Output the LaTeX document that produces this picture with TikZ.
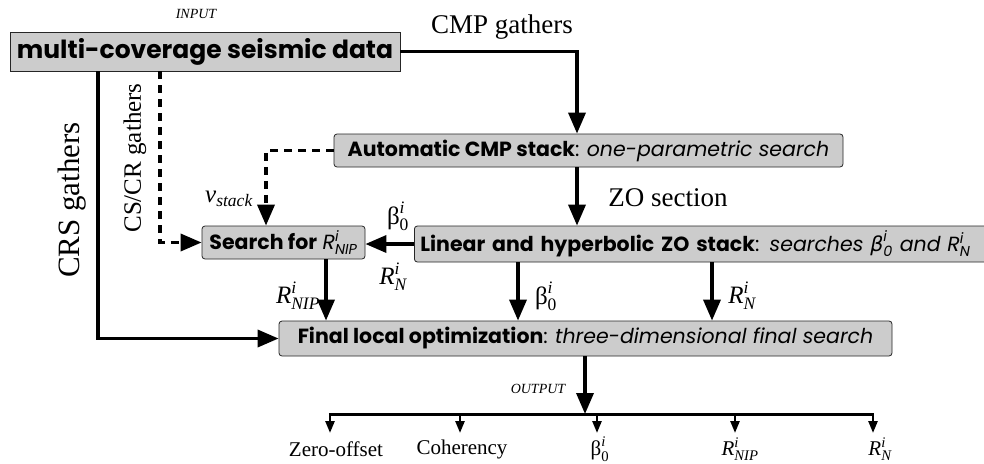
\documentclass[tikz,border=0pt]{standalone}
\usepackage{fontspec}
\usepackage{amsmath}
\setmainfont{Liberation Serif}
\newfontfamily\pop{Poppins}
\newfontfamily\gk{DejaVu Sans}
\usetikzlibrary{arrows.meta}
\newcommand\BZ{$\text{β}^{\text{\itshape i}}_{\text{0}}$}
\newcommand\BZbox{$\text{\gk β}^{\text{\itshape i}}_{\text{0}}$}
\newcommand\RN{$\text{\itshape R}^{\text{\itshape i}}_{\text{\itshape N}}$}
\newcommand\RNIP{$\text{\itshape R}^{\text{\itshape i}}_{\text{\itshape NIP}}$}
\tikzset{
  boxA/.style={draw=black!85, line width=0.8pt, fill=black!20, inner sep=0pt,
    font=\pop\bfseries\fontsize{25}{29}\selectfont},
  rbox/.style={draw=black!85, line width=0.8pt, fill=black!20, rounded corners=3pt,
    inner xsep=6pt, inner ysep=0pt, font=\pop\fontsize{20.5}{24}\selectfont},
  flow/.style={line width=3.5pt, -{Triangle[length=21pt,width=17pt]}},
  dflow/.style={flow, dash pattern=on 8pt off 6pt},
  smallarrow/.style={line width=2.5pt, -{Triangle[length=12pt,width=9pt]}},
  lbl/.style={inner sep=0pt, font=\fontsize{27}{31}\selectfont},
  slbl/.style={inner sep=0pt, font=\fontsize{25}{29}\selectfont},
  tinylbl/.style={inner sep=0pt, font=\itshape\fontsize{14}{16}\selectfont},
  outlbl/.style={inner sep=0pt, font=\fontsize{21}{25}\selectfont},
}
\begin{document}
\begin{tikzpicture}[x=1pt,y=-1pt]
\useasboundingbox (0,0) rectangle (984,463);
\fill[white] (0,0) rectangle (984,463);

% boxes
\node[boxA, minimum width=390pt, minimum height=39pt] (b1) at (205,51.5) {multi-coverage seismic data};
\node[rbox, minimum width=509pt, minimum height=33pt] (b2) at (588.5,150.5)
  {\textbf{Automatic CMP stack}: \textit{one-parametric search}};
\node[rbox, minimum height=36pt, text width=570pt, align=left, anchor=west] (b3) at (414,244)
  {\textbf{Linear and hyperbolic ZO stack}: \textit{searches \BZbox\ and \RN}};
\node[rbox, minimum width=163pt, minimum height=33pt] (s) at (283.5,242.5)
  {\textbf{Search for} \RNIP};
\node[rbox, minimum width=613pt, minimum height=35pt] (f) at (585.5,338.5)
  {\textbf{Final local optimization}: \textit{three-dimensional final search}};

% x positions
\coordinate (xA) at (577,0);
\coordinate (xV) at (266,0);
\coordinate (xD) at (160,0);
\coordinate (xS) at (98,0);
\coordinate (x1) at (326,0);
\coordinate (x2) at (518,0);
\coordinate (x3) at (712,0);
\coordinate (xo) at (585,0);

% connectors
\draw[flow] (b1.east) -| (b2.north -| xA);
\draw[flow] (b2.south -| xA) -- (b3.north -| xA);
\draw[dflow] (b2.west) -| (s.north -| xV);
\draw[flow] (b3.west) -- (b3.west -| s.east);
\draw[dflow] (b1.south -| xD) |- (s.west);
\draw[flow] (b1.south -| xS) |- (f.west);
\draw[flow] (s.south -| x1) -- (f.north -| x1);
\draw[flow] (b3.south -| x2) -- (f.north -| x2);
\draw[flow] (b3.south -| x3) -- (f.north -| x3);

% output tree
\coordinate (bar) at (585,414);
\coordinate (t1) at (330,414);
\coordinate (t2) at (460,414);
\coordinate (t3) at (597,414);
\coordinate (t4) at (735,414);
\coordinate (t5) at (873,414);
\draw[flow] (f.south -| xo) -- (bar);
\draw[line width=3pt] ([xshift=-1.2pt]t1) -- ([xshift=1.2pt]t5);
\foreach \t in {t1,t2,t3,t4,t5} \draw[smallarrow] (\t) -- ++(0,19);

% labels
\node[tinylbl] (inl) at (196,14) {INPUT};
\node[tinylbl] (outl) at (538,389) {OUTPUT};
\node[lbl] (cmpg) at (502,27) {CMP gathers};
\node[lbl] (zos) at (668,198) {ZO section};
\node[lbl, rotate=90, font=\fontsize{31}{35}\selectfont] (crs) at (72,200) {CRS gathers};
\node[lbl, rotate=90, font=\fontsize{25}{29}\selectfont] (cscr) at (135,158) {CS/CR gathers};
\node[slbl] (vs) at (229,199) {$\text{\itshape v}_{\text{\itshape stack}}$};
\node[slbl] (lb1) at (398,216) {\BZ};
\node[slbl] (lr1) at (393,277) {\RN};
\node[slbl] (lr2) at (298,296) {\RNIP};
\node[slbl] (lb2) at (546,296) {\BZ};
\node[slbl] (lr3) at (742,296) {\RN};

\node[outlbl] (o1) at (336,449) {Zero-offset};
\node[outlbl] (o2) at (462,449) {Coherency};
\node[outlbl] (o3) at (600,449) {\BZ};
\node[outlbl] (o4) at (740,449) {\RNIP};
\node[outlbl] (o5) at (880,449) {\RN};
\end{tikzpicture}
\end{document}
